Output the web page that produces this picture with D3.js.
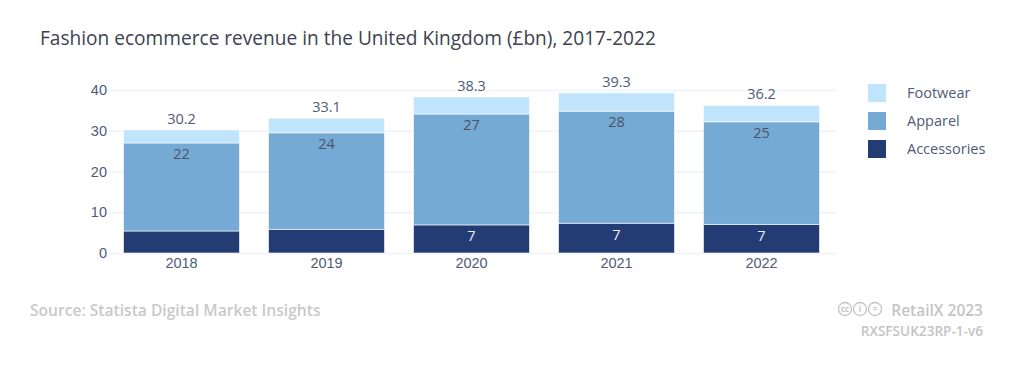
<!DOCTYPE html>
<html lang="en">
<head>
  <meta charset="UTF-8">
  <title>Fashion ecommerce revenue in the United Kingdom</title>
  <script src="https://d3js.org/d3.v7.min.js"></script>
  <style>
    html, body { margin: 0; background: #fff; overflow: hidden; }
    svg { display: block; font-family: "Open Sans", sans-serif; }
    .tick text { fill: #4f5b78; font-size: 14.5px; }
    .legend-label { fill: #4f5b78; font-size: 14.5px; }
  </style>
</head>
<body>
  <svg id="chart" width="1024" height="380"></svg>
  <script>
    const years = ["2018", "2019", "2020", "2021", "2022"];
    const accessories = [5.4, 5.8, 6.9, 7.3, 7.0];
    const apparel = [21.6, 23.7, 27.2, 27.5, 25.2];
    const footwear = [3.2, 3.6, 4.2, 4.5, 4.0];
    const totals = [30.2, 33.1, 38.3, 39.3, 36.2];
    const apparelLabels = ["22", "24", "27", "28", "25"];
    const accessoryLabels = ["", "", "7", "7", "7"];
    const yTicks = [0, 10, 20, 30, 40];

    const seriesNames = ["Accessories", "Apparel", "Footwear"];
    const seriesValues = [accessories, apparel, footwear];
    const colors = { Accessories: "#243c74", Apparel: "#74aad3", Footwear: "#c0e4fb" };

    const svg = d3.select("#chart");

    const x = d3.scaleBand().domain(years).range([109, 834]).paddingInner(0.2).paddingOuter(0.1);
    const y = d3.scaleLinear().domain([0, 40]).range([253, 90]);

    // Gridlines and y labels
    const yAxis = svg.append("g")
      .attr("transform", "translate(109,0)")
      .call(d3.axisLeft(y).tickValues(yTicks).tickSize(-726).tickPadding(2));
    yAxis.select(".domain").remove();
    yAxis.selectAll(".tick line").attr("stroke", "#f1f2f8").attr("stroke-width", 1.5);

    // Stacks
    const rows = years.map((year, i) => {
      const row = { year };
      seriesNames.forEach((name, j) => { row[name] = seriesValues[j][i]; });
      return row;
    });
    const stacked = d3.stack().keys(seriesNames)(rows);

    svg.append("g").selectAll("g")
      .data(stacked)
      .enter().append("g")
      .attr("fill", d => colors[d.key])
      .selectAll("rect")
      .data(d => d)
      .enter().append("rect")
      .attr("x", d => x(d.data.year))
      .attr("y", d => y(d[1]))
      .attr("width", x.bandwidth())
      .attr("height", d => y(d[0]) - y(d[1]))
      .attr("stroke", "#fff")
      .attr("stroke-opacity", 0.6)
      .attr("stroke-width", 1);

    // x labels
    const xAxis = svg.append("g")
      .attr("transform", "translate(0,253)")
      .call(d3.axisBottom(x).tickSize(0).tickPadding(5));
    xAxis.select(".domain").remove();

    // Value labels
    svg.append("g").selectAll("text")
      .data(years)
      .enter().append("text")
      .attr("x", d => x(d) + x.bandwidth() / 2)
      .attr("y", (d, i) => y(totals[i]) - 6)
      .attr("text-anchor", "middle")
      .attr("font-size", 14.5)
      .attr("fill", "#4f5b78")
      .text((d, i) => totals[i]);

    svg.append("g").selectAll("text")
      .data(years)
      .enter().append("text")
      .attr("x", d => x(d) + x.bandwidth() / 2)
      .attr("y", (d, i) => y(accessories[i] + apparel[i]) + 16)
      .attr("text-anchor", "middle")
      .attr("font-size", 14.5)
      .attr("fill", "#50526a")
      .text((d, i) => apparelLabels[i]);

    svg.append("g").selectAll("text")
      .data(years)
      .enter().append("text")
      .attr("x", d => x(d) + x.bandwidth() / 2)
      .attr("y", (d, i) => y(accessories[i]) + 16.5)
      .attr("text-anchor", "middle")
      .attr("font-size", 14.5)
      .attr("fill", "#e8ecf4")
      .text((d, i) => accessoryLabels[i]);

    // Legend
    const legendY = d3.scalePoint().domain(seriesNames.slice().reverse()).range([93, 149]);
    const legend = svg.append("g").selectAll("g")
      .data(seriesNames)
      .enter().append("g")
      .attr("transform", d => `translate(0,${legendY(d)})`);
    legend.append("rect")
      .attr("x", 868)
      .attr("y", -9)
      .attr("width", 18)
      .attr("height", 18)
      .attr("fill", d => colors[d]);
    legend.append("text")
      .attr("class", "legend-label")
      .attr("x", 907)
      .attr("y", 5)
      .text(d => d);

    // Title and footer
    svg.append("text").attr("x", 40).attr("y", 45)
      .attr("font-size", 19.1).attr("fill", "#3d4250")
      .text("Fashion ecommerce revenue in the United Kingdom (£bn), 2017-2022");

    svg.append("text").attr("x", 30).attr("y", 316)
      .attr("font-size", 15.6).attr("font-weight", 600).attr("fill", "#c9c9c9")
      .text("Source: Statista Digital Market Insights");

    svg.append("text").attr("x", 983).attr("y", 316)
      .attr("text-anchor", "end").attr("font-size", 15.5).attr("font-weight", 600).attr("fill", "#c4c4c4")
      .text("RetailX 2023");

    svg.append("text").attr("x", 983).attr("y", 336)
      .attr("text-anchor", "end").attr("font-size", 13.6).attr("font-weight", 600).attr("fill", "#c4c4c4")
      .text("RXSFSUK23RP-1-v6");

    // Licence badges
    const badges = ["cc", "i", "="];
    const badgeX = d3.scalePoint().domain(badges).range([845, 875]);
    const badge = svg.append("g").selectAll("g")
      .data(badges)
      .enter().append("g")
      .attr("transform", d => `translate(${badgeX(d)},309)`);
    badge.append("circle").attr("r", 6.5).attr("fill", "none").attr("stroke", "#c4c4c4").attr("stroke-width", 1.3);
    badge.append("text").attr("y", 3).attr("text-anchor", "middle")
      .attr("font-size", 8).attr("font-weight", 700).attr("fill", "#c4c4c4")
      .text(d => d);
  </script>
</body>
</html>
